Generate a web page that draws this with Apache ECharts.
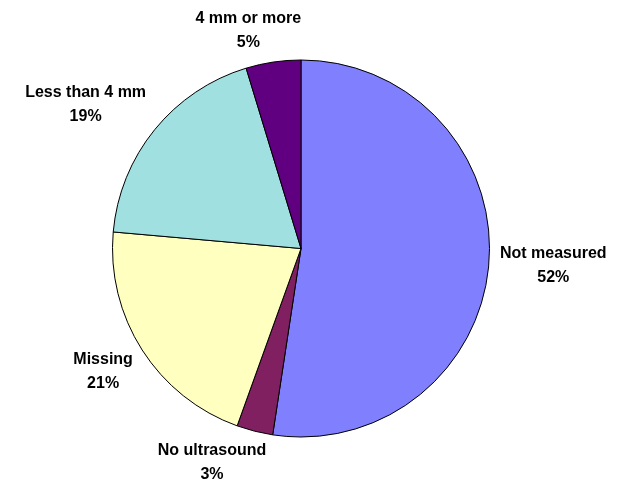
<!DOCTYPE html>
<html>
<head>
<meta charset="utf-8">
<script src="https://cdn.jsdelivr.net/npm/echarts@6/dist/echarts.min.js"></script>
<style>html,body{margin:0;padding:0;background:#fff;}#c{width:618px;height:480px;}</style>
</head>
<body>
<div id="c"></div>
<script>
var categories = ['Not measured', 'No ultrasound', 'Missing', 'Less than 4 mm', '4 mm or more'];
var values = [52.4, 3.1, 20.9, 18.9, 4.7];
var colors = ['#8080FF', '#802060', '#FFFFC0', '#A0E0E0', '#600080'];

var CX = 301, CY = 248.5, R = 188.5, GAP = 11, K = 3;
var total = values.reduce(function (a, b) { return a + b; }, 0);
var mids = [];
(function () {
  var acc = 0;
  for (var i = 0; i < values.length; i++) {
    mids.push((acc + values[i] / 2) / total * 2 * Math.PI);
    acc += values[i];
  }
})();
function clamp(v) { return Math.max(-1, Math.min(1, v)); }

var chart = echarts.init(document.getElementById('c'), null, { renderer: 'canvas' });
chart.setOption({
  animation: false,
  backgroundColor: '#ffffff',
  series: [{
    type: 'pie',
    center: [CX, CY],
    radius: R,
    startAngle: 90,
    clockwise: true,
    percentPrecision: 0,
    data: categories.map(function (c, i) {
      return { name: c, value: values[i], itemStyle: { color: colors[i] } };
    }),
    itemStyle: { borderColor: '#000000', borderWidth: 1 },
    emphasis: { disabled: true },
    label: {
      show: true,
      position: 'outside',
      alignTo: 'none',
      overflow: 'none',
      formatter: '{b}\n{d}%',
      fontFamily: 'Liberation Sans, Arial, sans-serif',
      fontWeight: 'bold',
      fontSize: 16,
      lineHeight: 24,
      color: '#000000',
      align: 'center'
    },
    labelLine: { show: false },
    labelLayout: function (p) {
      var a = mids[p.dataIndex];
      var ux = Math.sin(a), uy = -Math.cos(a);
      var ax = CX + (R + GAP) * ux, ay = CY + (R + GAP) * uy;
      var w = p.labelRect.width, h = p.labelRect.height;
      return {
        x: ax + clamp(K * ux) * w / 2,
        y: ay + clamp(1.4 * uy) * 0.85 * h / 2,
        align: 'center',
        verticalAlign: 'middle'
      };
    }
  }]
});
</script>
</body>
</html>
